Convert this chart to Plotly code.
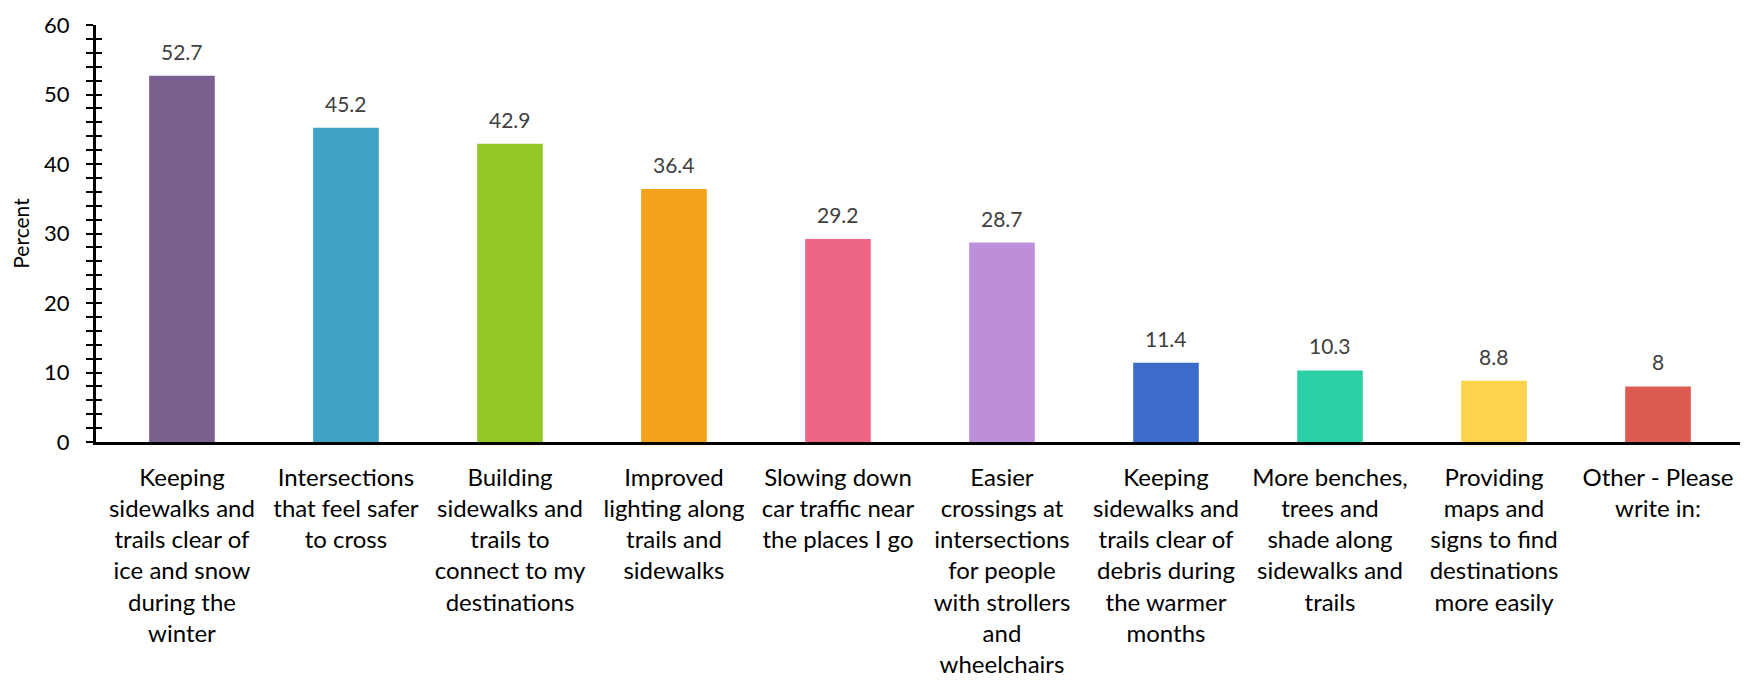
import plotly.graph_objects as go

categories = [
    "Keeping<br>sidewalks and<br>trails clear of<br>ice and snow<br>during the<br>winter",
    "Intersections<br>that feel safer<br>to cross",
    "Building<br>sidewalks and<br>trails to<br>connect to my<br>destinations",
    "Improved<br>lighting along<br>trails and<br>sidewalks",
    "Slowing down<br>car traffic near<br>the places I go",
    "Easier<br>crossings at<br>intersections<br>for people<br>with strollers<br>and<br>wheelchairs",
    "Keeping<br>sidewalks and<br>trails clear of<br>debris during<br>the warmer<br>months",
    "More benches,<br>trees and<br>shade along<br>sidewalks and<br>trails",
    "Providing<br>maps and<br>signs to find<br>destinations<br>more easily",
    "Other - Please<br>write in:",
]
values = [52.7, 45.2, 42.9, 36.4, 29.2, 28.7, 11.4, 10.3, 8.8, 8]
value_labels = ["52.7", "45.2", "42.9", "36.4", "29.2", "28.7", "11.4", "10.3", "8.8", "8"]
colors = ["#7B5F8E", "#3FA2C2", "#94C829", "#F4A21B", "#EF6585",
          "#BD8FDB", "#3B6CCB", "#2BCFA5", "#FCD34B", "#DD5A50"]

FONT = "Lato, 'Open Sans', sans-serif"

fig = go.Figure()
fig.add_trace(go.Bar(x=categories, y=values, marker=dict(color=colors, line=dict(width=0)),
                     hoverinfo="skip"))
# invisible trace on overlay axis so yaxis2 renders
fig.add_trace(go.Scatter(x=[categories[0]], y=[0], yaxis="y2", mode="markers",
                         marker=dict(opacity=0), showlegend=False, hoverinfo="skip"))

for c, v, t in zip(categories, values, value_labels):
    fig.add_annotation(x=c, y=v, text=t, showarrow=False, yanchor="bottom", yshift=10,
                       font=dict(family=FONT, size=21, color="#404040"))

fig.update_layout(
    template="none",
    width=1748, height=685,
    margin=dict(l=88, r=16, t=17, b=251, autoexpand=False),
    plot_bgcolor="white", paper_bgcolor="white",
    showlegend=False,
    bargap=0.6,
    font=dict(family=FONT, color="#000000"),
    xaxis=dict(
        automargin=False,
        showline=True, linecolor="#000000", linewidth=3,
        ticks="", showgrid=False, zeroline=False,
        tickfont=dict(family=FONT, size=24, color="#000000"),
        tickangle=0,
        ticklabelstandoff=12,
    ),
    yaxis=dict(
        automargin=False,
        range=[0, 60], dtick=10, showgrid=False, zeroline=False,
        showline=True, linecolor="#000000", linewidth=3,
        ticks="outside", ticklen=7, tickwidth=2, tickcolor="#000000",
        minor=dict(dtick=2, ticks="outside", ticklen=7, tickwidth=2, tickcolor="#000000"),
        tickfont=dict(family=FONT, size=22, color="#000000"),
        ticklabelstandoff=12,
        ticklabeloverflow="allow",
        title=dict(text="Percent", font=dict(family=FONT, size=21, color="#000000"), standoff=12),
    ),
    yaxis2=dict(
        automargin=False,
        overlaying="y", side="left", range=[0, 60], dtick=10, showgrid=False, zeroline=False,
        showline=False, showticklabels=False,
        ticks="inside", ticklen=6, tickwidth=2, tickcolor="#000000",
        minor=dict(dtick=2, ticks="inside", ticklen=6, tickwidth=2, tickcolor="#000000"),
    ),
)

fig.write_html("out.html")
